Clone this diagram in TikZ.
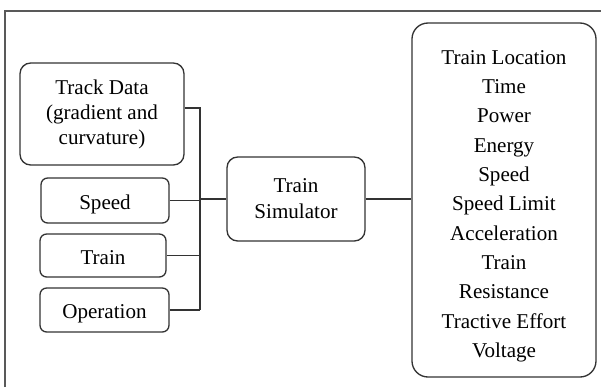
\documentclass[tikz,border=0pt]{standalone}
\usepackage{fontspec}
\setmainfont{Liberation Serif}
\usepackage{tikz}
\usetikzlibrary{positioning,calc}

\begin{document}
\begin{tikzpicture}[
	x=0.75pt,
	y=-0.75pt,
	font=\fontsize{15.8}{18.8}\selectfont,
	frame/.style={draw=black!65,line width=0.8pt},
	inbox/.style={draw=black!80,line width=1pt,rounded corners=5pt,align=center,inner sep=0pt,text height=12.8pt,text depth=0pt},
	databox/.style={draw=black!80,line width=1pt,rounded corners=8pt,align=center,inner sep=0pt},
	simbox/.style={draw=black!80,line width=1pt,rounded corners=8pt,align=center,inner sep=0pt},
	outbox/.style={draw=black!80,line width=1pt,rounded corners=12pt,inner sep=0pt},
	outtext/.style={align=center,inner sep=0pt,font=\fontsize{15.8}{22}\selectfont},
	link/.style={draw=black!80,line width=1pt}
	]
	\useasboundingbox (0,0) rectangle (601,387);
	
	% outer frame (cut at the right and bottom)
	\draw[frame] (5,387) -- (5,11) -- (601,11);
	
	% inputs
	\node[databox,minimum width=123pt,minimum height=76.5pt] (trackdata) at (102,114) {Track Data\\(gradient and\\curvature)};
	\node[inbox,minimum width=96pt,minimum height=33.75pt] (speed) at (105,200.5) {Speed};
	\node[inbox,minimum width=94.5pt,minimum height=32.25pt] (train) at (103,255.5) {Train};
	\node[inbox,minimum width=96.75pt,minimum height=33pt] (operation) at (104.5,310) {Operation};
	
	% simulator and outputs
	\node[simbox,font=\fontsize{15.8}{19.5}\selectfont,minimum width=103.5pt,minimum height=63pt] (simulator) at (296,199) {Train\\Simulator};
	\node[outbox,minimum width=138pt,minimum height=265.5pt] (outputs) at (504,200) {};
	\node[outtext] (outlist) at (504,206) {Train Location\\Time\\Power\\Energy\\Speed\\Speed Limit\\Acceleration\\Train\\Resistance\\Tractive Effort\\Voltage};
	
	% bus
	\coordinate (bus) at (200,0);
	\draw[link] ($(trackdata.east)+(0,-6)$) -| (bus |- operation.east);
	\foreach \n in {speed,train,operation} {
		\draw[link] (\n.east) -- (bus |- \n.east);
	}
	\draw[link] (bus |- simulator.west) -- (simulator.west);
	\draw[link] (simulator.east) -- (outputs.west |- simulator.east);
\end{tikzpicture}
\end{document}
